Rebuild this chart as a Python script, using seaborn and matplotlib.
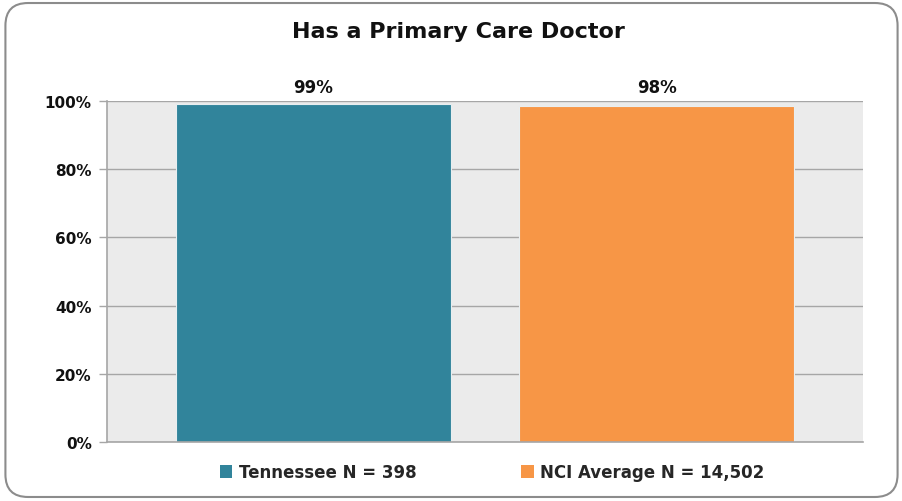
import matplotlib
matplotlib.use("Agg")
import matplotlib.pyplot as plt
import seaborn as sns
import pandas as pd
from matplotlib.patches import FancyBboxPatch, Patch

# données
groupes = ["Tennessee N = 398", "NCI Average N = 14,502"]
valeurs = [99.1, 98.5]
etiquettes = ["99%", "98%"]
couleurs = ["#31849B", "#F79646"]
graduations = [0, 20, 40, 60, 80, 100]

df = pd.DataFrame({"groupe": groupes, "valeur": valeurs})

sns.set_theme(style="white")
plt.rcParams["font.family"] = ["DejaVu Sans"]

fig = plt.figure(figsize=(9.03, 5.02), dpi=100)
ax = fig.add_axes([0.1185, 0.1175, 0.8372, 0.6795])

sns.barplot(data=df, x="groupe", y="valeur", hue="groupe", palette=couleurs,
            width=0.8, ax=ax, legend=False, saturation=1, edgecolor="#e8eef0", linewidth=0.8)

ax.set_facecolor("#EBEBEB")
ax.set_xlim(-0.6, 1.6)
ax.set_ylim(0, 100)
ax.set_yticks(graduations)
ax.set_yticklabels([f"{g}%" for g in graduations], fontsize=11, fontweight="bold",
                   color="#111111")
ax.set_xticks([])
ax.set_xlabel("")
ax.set_ylabel("")
ax.yaxis.grid(True, color="#a6a6a6", linewidth=1)
ax.set_axisbelow(True)
ax.tick_params(axis="y", length=6, width=1, color="#a6a6a6", left=True, pad=5)
for s in ["top", "right"]:
    ax.spines[s].set_visible(False)
for s in ["left", "bottom"]:
    ax.spines[s].set_color("#a6a6a6")
    ax.spines[s].set_linewidth(1.2)

for i, (v, lab) in enumerate(zip(valeurs, etiquettes)):
    ax.text(i, 101.5, lab, ha="center", va="bottom", fontsize=12, fontweight="bold",
            color="#111111", clip_on=False)

fig.text(0.508, 0.936, "Has a Primary Care Doctor", ha="center", va="center",
         fontsize=16, fontweight="bold", color="#111111")

poignees = [Patch(facecolor=c, edgecolor="none") for c in couleurs]
fig.legend(poignees, groupes, loc="center", bbox_to_anchor=(0.545, 0.057), ncol=2,
           frameon=False, prop={"weight": "bold", "size": 12},
           handlelength=0.75, handleheight=0.75, handletextpad=0.4, columnspacing=6.3)

cadre = FancyBboxPatch((0.006, 0.008), 0.988, 0.984, boxstyle="round,pad=0,rounding_size=0.025",
                       transform=fig.transFigure, facecolor="none", edgecolor="#8c8c8c",
                       linewidth=1.5, mutation_aspect=903 / 502)
fig.patches.append(cadre)

fig.savefig("out.png", dpi=100)
